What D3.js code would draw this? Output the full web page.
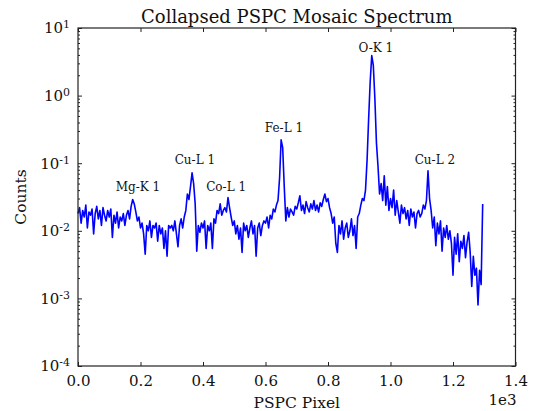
<!DOCTYPE html>
<html>
<head>
<meta charset="utf-8">
<script src="https://cdn.jsdelivr.net/npm/d3@7"></script>
<style>
  body { margin: 0; background: #fff; }
  svg { display: block; font-family: "DejaVu Serif", serif; }
  .axis .domain { display: none; }
  .axis line { stroke: #222; }
</style>
</head>
<body>
<svg id="chart"></svg>
<script>
// PSPC channel bins (pixel units) and collapsed counts
const binStart = 0, binStep = 5, binCount = 260;
const counts = [
    0.018, 0.022, 0.013, 0.02, 0.016, 0.024, 0.011, 0.019, 0.017, 0.021,
    0.009, 0.018, 0.023, 0.015, 0.02, 0.012, 0.022, 0.017, 0.014, 0.02,
    0.016, 0.021, 0.008, 0.017, 0.013, 0.019, 0.011, 0.016, 0.014, 0.018,
    0.012, 0.017, 0.02, 0.015, 0.023, 0.029, 0.025, 0.019, 0.014, 0.016,
    0.011, 0.013, 0.009, 0.0045, 0.012, 0.01, 0.014, 0.008, 0.012, 0.011,
    0.013, 0.007, 0.012, 0.009, 0.011, 0.0055, 0.01, 0.0042, 0.012, 0.011,
    0.012, 0.01, 0.014, 0.009, 0.0058, 0.012, 0.015, 0.011, 0.016, 0.02,
    0.035, 0.029, 0.045, 0.072, 0.05, 0.025, 0.005, 0.012, 0.0095, 0.013,
    0.011, 0.014, 0.0055, 0.012, 0.01, 0.013, 0.0055, 0.015, 0.013, 0.02,
    0.018, 0.025, 0.017, 0.02, 0.022, 0.019, 0.031, 0.022, 0.016, 0.012,
    0.014, 0.009, 0.012, 0.0075, 0.011, 0.0048, 0.013, 0.01, 0.012, 0.008,
    0.011, 0.014, 0.009, 0.012, 0.0042, 0.011, 0.013, 0.0085, 0.012, 0.014,
    0.013, 0.016, 0.011, 0.017, 0.015, 0.021, 0.019, 0.024, 0.028, 0.06,
    0.222, 0.17, 0.045, 0.014, 0.022, 0.016, 0.021, 0.019, 0.017, 0.023,
    0.021, 0.026, 0.033, 0.02, 0.024, 0.018, 0.027, 0.022, 0.019, 0.025,
    0.021, 0.028, 0.02, 0.024, 0.019, 0.026, 0.023, 0.029, 0.035, 0.027,
    0.03, 0.022, 0.018, 0.013, 0.016, 0.0065, 0.0048, 0.012, 0.009, 0.014,
    0.0075, 0.011, 0.013, 0.008, 0.01, 0.015, 0.0085, 0.012, 0.0055, 0.016,
    0.018, 0.024, 0.03, 0.028, 0.04, 0.11, 0.45, 1.6, 3.9, 2.8,
    0.9, 0.2, 0.09, 0.035, 0.05, 0.028, 0.065, 0.024, 0.045, 0.02,
    0.03, 0.022, 0.04, 0.017, 0.028, 0.019, 0.013, 0.024, 0.018, 0.022,
    0.015, 0.02, 0.012, 0.021, 0.016, 0.019, 0.011, 0.018, 0.02, 0.016,
    0.018, 0.024, 0.021, 0.028, 0.077, 0.03, 0.02, 0.011, 0.016, 0.006,
    0.013, 0.009, 0.014, 0.005, 0.011, 0.008, 0.012, 0.0075, 0.01, 0.0065,
    0.0022, 0.008, 0.0045, 0.009, 0.0035, 0.007, 0.0055, 0.0085, 0.004, 0.0068,
    0.0095, 0.0048, 0.0015, 0.0042, 0.0022, 0.0028, 0.0008, 0.0026, 0.0016, 0.025
];

// line identifications and where their labels sit
const lineNames = ["Mg-K 1", "Cu-L 1", "Co-L 1", "Fe-L 1", "O-K 1", "Cu-L 2"];
const lineLabelX = [192, 374, 474, 659, 953, 1142];
const lineLabelY = [0.039, 0.098, 0.039, 0.29, 4.45, 0.098];

const xTicks = [0, 200, 400, 600, 800, 1000, 1200, 1400];
const yTicks = [1e-4, 1e-3, 1e-2, 1e-1, 1e0, 1e1];

const width = 535, height = 411;
const margin = {top: 28, right: 19.5, bottom: 45, left: 78};
const innerW = width - margin.left - margin.right;
const innerH = height - margin.top - margin.bottom;

const bins = d3.range(binCount).map(i => binStart + i * binStep);
const data = bins.map((b, i) => ({x: b, y: counts[i]}));

const svg = d3.select('#chart')
    .attr('width', width)
    .attr('height', height);

const chart = svg.append('g')
    .attr('transform', `translate(${margin.left},${margin.top})`);

const xScale = d3.scaleLinear().domain([0, 1400]).range([0, innerW]);
const yScale = d3.scaleLog().domain([1e-4, 1e1]).range([innerH, 0]);

// minor ticks on the log axis
const minor = [];
for (let e = -4; e < 1; e++) {
    for (let m = 2; m < 10; m++) minor.push(m * Math.pow(10, e));
}

// spectrum
chart.append('path')
    .datum(data)
    .attr('fill', 'none')
    .attr('stroke', '#0000ff')
    .attr('stroke-width', 1.6)
    .attr('stroke-linejoin', 'round')
    .attr('d', d3.line().x(d => xScale(d.x)).y(d => yScale(d.y)));

// labels
chart.selectAll('.line-label')
    .data(lineNames)
    .join('text')
    .attr('class', 'line-label')
    .attr('x', (d, i) => xScale(lineLabelX[i]))
    .attr('y', (d, i) => yScale(lineLabelY[i]))
    .attr('text-anchor', 'middle')
    .attr('font-size', 12)
    .attr('fill', '#111')
    .text(d => d);

// axes, ticks point inward
const xAxisG = chart.append('g')
    .attr('class', 'axis')
    .attr('transform', `translate(0,${innerH})`)
    .call(d3.axisBottom(xScale).tickValues(xTicks).tickSizeInner(-4).tickSizeOuter(0)
        .tickPadding(9).tickFormat(d => (d / 1000).toFixed(1)));
xAxisG.selectAll('text').attr('font-size', 15).attr('fill', '#111').attr('font-family', 'DejaVu Serif');

chart.append('g')
    .attr('class', 'axis')
    .call(d3.axisTop(xScale).tickValues(xTicks).tickSizeInner(-4).tickSizeOuter(0).tickFormat(''));

const yAxisG = chart.append('g')
    .attr('class', 'axis')
    .call(d3.axisLeft(yScale).tickValues(yTicks).tickSizeInner(-4).tickSizeOuter(0)
        .tickPadding(8).tickFormat(''));
yAxisG.selectAll('.tick text')
    .attr('font-size', 15)
    .attr('fill', '#111')
    .attr('font-family', 'DejaVu Serif')
    .each(function(d) {
        const t = d3.select(this);
        t.append('tspan').text('10');
        t.append('tspan').attr('dy', '-0.45em').attr('font-size', 11).text(Math.round(Math.log10(d)));
    });

chart.append('g')
    .attr('class', 'axis')
    .call(d3.axisLeft(yScale).tickValues(minor).tickSizeInner(-2).tickSizeOuter(0).tickFormat(''));

chart.append('g')
    .attr('class', 'axis')
    .attr('transform', `translate(${innerW},0)`)
    .call(d3.axisRight(yScale).tickValues(yTicks).tickSizeInner(-4).tickSizeOuter(0).tickFormat(''));

chart.append('g')
    .attr('class', 'axis')
    .attr('transform', `translate(${innerW},0)`)
    .call(d3.axisRight(yScale).tickValues(minor).tickSizeInner(-2).tickSizeOuter(0).tickFormat(''));

// frame
chart.append('rect')
    .attr('width', innerW)
    .attr('height', innerH)
    .attr('fill', 'none')
    .attr('stroke', '#222')
    .attr('stroke-width', 1.2);

// titles
svg.append('text')
    .attr('x', margin.left + innerW / 2)
    .attr('y', 23)
    .attr('text-anchor', 'middle')
    .attr('font-size', 18)
    .attr('fill', '#111')
    .text('Collapsed PSPC Mosaic Spectrum');

svg.append('text')
    .attr('x', margin.left + innerW / 2)
    .attr('y', 408)
    .attr('text-anchor', 'middle')
    .attr('font-size', 15.5)
    .attr('fill', '#111')
    .text('PSPC Pixel');

svg.append('text')
    .attr('x', margin.left + innerW + 1)
    .attr('y', 405)
    .attr('text-anchor', 'end')
    .attr('font-size', 15)
    .attr('fill', '#111')
    .text('1e3');

svg.append('text')
    .attr('transform', `translate(26,${margin.top + innerH / 2}) rotate(-90)`)
    .attr('text-anchor', 'middle')
    .attr('font-size', 15.5)
    .attr('fill', '#111')
    .text('Counts');
</script>
</body>
</html>
